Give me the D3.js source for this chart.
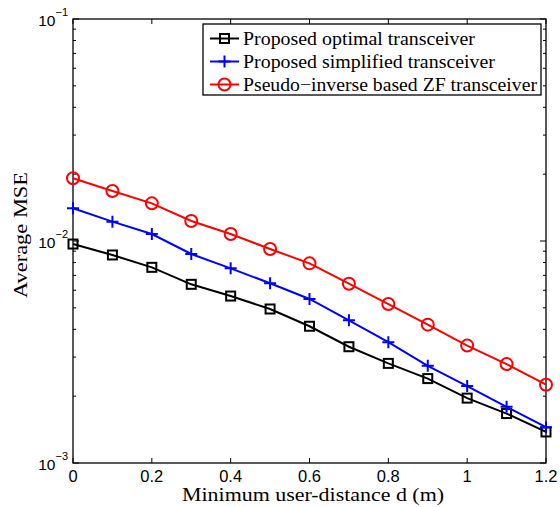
<!DOCTYPE html>
<html>
<head>
<meta charset="utf-8">
<script src="https://cdn.jsdelivr.net/npm/d3@7"></script>
<style>
  body { margin: 0; background: #fff; }
  svg { display: block; }
</style>
</head>
<body>
<div id="chart"></div>
<script>
// values
const dist = [0, 0.1, 0.2, 0.3, 0.4, 0.5, 0.6, 0.7, 0.8, 0.9, 1.0, 1.1, 1.2];
const optimal = [0.00969, 0.00865, 0.00761, 0.00638, 0.00565, 0.00494, 0.00413, 0.00334, 0.00281, 0.00240, 0.00196, 0.00167, 0.00138];
const simplified = [0.01404, 0.01222, 0.01075, 0.00874, 0.00753, 0.00645, 0.00548, 0.00439, 0.00350, 0.00274, 0.00222, 0.00179, 0.00145];
const zf = [0.01916, 0.01680, 0.01478, 0.01231, 0.01075, 0.00920, 0.00793, 0.00642, 0.00520, 0.00420, 0.00338, 0.00279, 0.002253];
const seriesNames = ["Proposed optimal transceiver", "Proposed simplified transceiver", "Pseudo\u2212inverse based ZF transceiver"];
const xTicks = [0, 0.2, 0.4, 0.6, 0.8, 1, 1.2];
const yDecades = [-3, -2, -1];

const W = 560, H = 507;
const margin = { top: 19, right: 14, bottom: 44, left: 73 };
const width = W - margin.left - margin.right,
  height = H - margin.top - margin.bottom;

const svg = d3.select("#chart").append("svg")
  .attr("width", W).attr("height", H);
const g = svg.append("g")
  .attr("transform", `translate(${margin.left},${margin.top})`);

const x = d3.scaleLinear().domain([0, 1.2]).range([0, width]);
const y = d3.scaleLog().domain([1e-3, 1e-1]).range([height, 0]);

const sans = "'Liberation Sans', Arial, sans-serif";
const serif = "'Liberation Serif', 'Times New Roman', serif";

// ticks (inward, on all four sides)
const minor = [];
yDecades.slice(0, 2).forEach(e => {
  for (let k = 2; k <= 9; k++) minor.push(k * Math.pow(10, e));
});
const tickG = g.append("g").attr("stroke", "#000").attr("stroke-width", 1);
xTicks.forEach(t => {
  tickG.append("line").attr("x1", x(t)).attr("x2", x(t)).attr("y1", height).attr("y2", height - 5);
  tickG.append("line").attr("x1", x(t)).attr("x2", x(t)).attr("y1", 0).attr("y2", 5);
});
yDecades.forEach(e => {
  const v = Math.pow(10, e);
  tickG.append("line").attr("x1", 0).attr("x2", 6).attr("y1", y(v)).attr("y2", y(v));
  tickG.append("line").attr("x1", width).attr("x2", width - 6).attr("y1", y(v)).attr("y2", y(v));
});
minor.forEach(v => {
  tickG.append("line").attr("x1", 0).attr("x2", 3).attr("y1", y(v)).attr("y2", y(v));
  tickG.append("line").attr("x1", width).attr("x2", width - 3).attr("y1", y(v)).attr("y2", y(v));
});

// frame
g.append("rect").attr("width", width).attr("height", height)
  .attr("fill", "none").attr("stroke", "#000").attr("stroke-width", 1.3);

// tick labels
g.selectAll(".xl").data(xTicks).enter().append("text")
  .attr("x", d => x(d)).attr("y", height + 19)
  .attr("text-anchor", "middle")
  .style("font-family", sans).style("font-size", "16.5px")
  .text(d => d);

yDecades.forEach(e => {
  const t = g.append("text")
    .attr("x", -5).attr("y", y(Math.pow(10, e)) + 7)
    .attr("text-anchor", "end")
    .style("font-family", sans).style("font-size", "15.5px");
  t.append("tspan").text("10");
  t.append("tspan").attr("dy", -10).style("font-size", "11px").text("\u2212" + Math.abs(e));
});

// axis titles
g.append("text")
  .attr("x", 240).attr("y", height + 38)
  .attr("text-anchor", "middle")
  .attr("textLength", 262).attr("lengthAdjust", "spacingAndGlyphs")
  .style("font-family", serif).style("font-size", "18.5px")
  .text("Minimum user-distance d (m)");

g.append("text")
  .attr("transform", `translate(${-46},${height / 2 - 6}) rotate(-90)`)
  .attr("text-anchor", "middle")
  .attr("textLength", 126).attr("lengthAdjust", "spacingAndGlyphs")
  .style("font-family", serif).style("font-size", "18.5px")
  .text("Average MSE");

// series
const series = [
  { name: seriesNames[0], values: optimal, color: "#000000", marker: "square" },
  { name: seriesNames[1], values: simplified, color: "#0000ff", marker: "plus" },
  { name: seriesNames[2], values: zf, color: "#ff0000", marker: "circle" }
];
const legendWidths = [232, 252, 294];

const line = d3.line()
  .x((d, i) => x(dist[i]))
  .y(d => y(d));

function drawMarker(sel, type, color, cx, cy) {
  if (type === "square") {
    sel.append("rect").attr("x", cx - 4.5).attr("y", cy - 4.5)
      .attr("width", 9).attr("height", 9)
      .attr("fill", "none").attr("stroke", color).attr("stroke-width", 2);
  } else if (type === "circle") {
    sel.append("circle").attr("cx", cx).attr("cy", cy).attr("r", 6)
      .attr("fill", "none").attr("stroke", color).attr("stroke-width", 2);
  } else {
    sel.append("path")
      .attr("d", `M${cx - 6},${cy}H${cx + 6}M${cx},${cy - 6}V${cy + 6}`)
      .attr("stroke", color).attr("stroke-width", 2);
  }
}

series.forEach(s => {
  g.append("path").datum(s.values)
    .attr("d", line)
    .attr("fill", "none").attr("stroke", s.color).attr("stroke-width", 2);
  const mg = g.append("g");
  s.values.forEach((v, i) => drawMarker(mg, s.marker, s.color, x(dist[i]), y(v)));
});

// legend
const lg = svg.append("g").attr("transform", "translate(203,24)");
lg.append("rect").attr("width", 338).attr("height", 71)
  .attr("fill", "#fff").attr("stroke", "#000").attr("stroke-width", 1.3);
series.forEach((s, i) => {
  const cy = 14.5 + i * 23;
  lg.append("line").attr("x1", 7).attr("x2", 36).attr("y1", cy).attr("y2", cy)
    .attr("stroke", s.color).attr("stroke-width", 2);
  drawMarker(lg, s.marker, s.color, 21.5, cy);
  lg.append("text").attr("x", 40).attr("y", cy + 6)
    .attr("textLength", legendWidths[i]).attr("lengthAdjust", "spacingAndGlyphs")
    .style("font-family", serif).style("font-size", "18.5px")
    .text(s.name);
});
</script>
</body>
</html>
